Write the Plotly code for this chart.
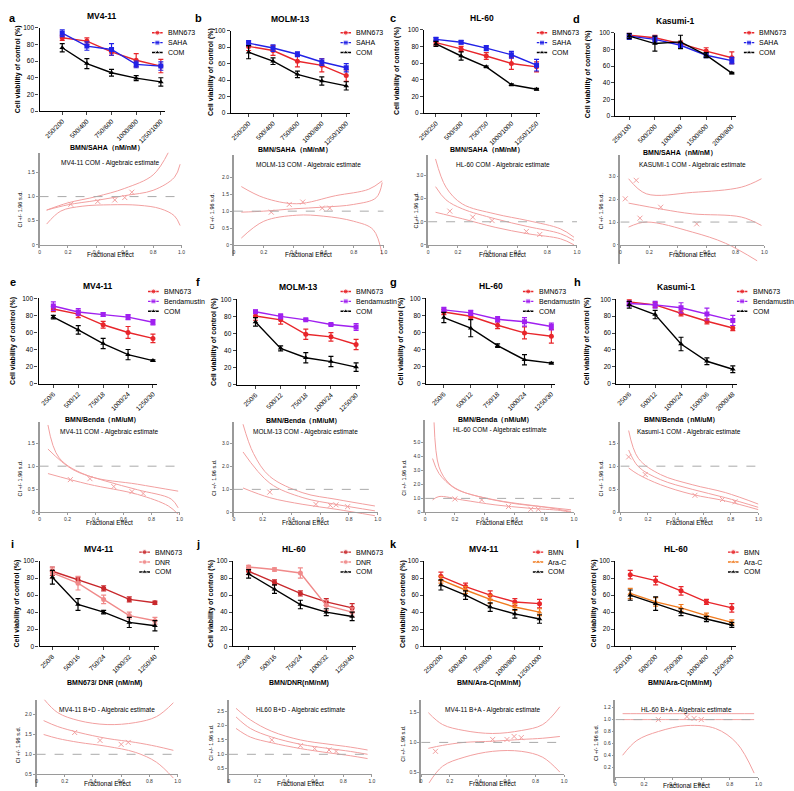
import plotly.graph_objects as go

W, H = 794, 791
FONT = "Liberation Sans, Arial, sans-serif"

# ── colours ──────────────────────────────────────────────────────────────────
C_RED = "#e8262b"
C_BLUE = "#2222e6"
C_BLACK = "#000000"
C_PURPLE = "#a020f0"
C_DKRED = "#c8282c"
C_PINK = "#f08a8a"
C_ORANGE = "#f07b1f"
C_CI = "#f2a0a0"
C_AX = "#9a9a9a"

# ── dose labels ──────────────────────────────────────────────────────────────
DOSE_A = ["250/200", "500/400", "750/600", "1000/800", "1250/1000"]
DOSE_B = ["250/200", "500/400", "750/600", "1000/800", "1250/1000"]
DOSE_C = ["250/250", "500/500", "750/750", "1000/1000", "1250/1250"]
DOSE_D = ["250/100", "500/200", "1000/400", "1500/600", "2000/800"]
DOSE_E = ["250/6", "500/12", "750/18", "1000/24", "1250/30"]
DOSE_H = ["250/6", "500/12", "1000/24", "1500/36", "2000/48"]
DOSE_I = ["250/8", "500/16", "750/24", "1000/32", "1250/40"]
DOSE_K = ["250/200", "500/400", "750/600", "1000/800", "1250/1000"]
DOSE_L = ["250/100", "500/200", "750/300", "1000/400", "1250/500"]

# ── viability (%), mean and error ────────────────────────────────────────────
A_BMN, A_BMN_E = [88, 84, 71, 61, 54], [3, 4, 4, 8, 8]
A_SAHA, A_SAHA_E = [93.5, 78, 74, 56, 54], [4, 5, 7, 4, 5]
A_COM, A_COM_E = [76, 57, 46, 39.5, 35], [5, 6, 4, 3, 5]

B_BMN, B_BMN_E = [81, 76, 63, 58, 45.5], [5, 6, 7, 8, 7]
B_SAHA, B_SAHA_E = [85, 79, 71.5, 62, 55], [3, 4, 3, 4, 5]
B_COM, B_COM_E = [74, 63, 47, 39, 33], [8, 4, 4, 5, 5]

C_BMN, C_BMN_E = [84.5, 77, 68.5, 59.5, 55.5], [3, 3, 4, 7, 6]
C_SAHA, C_SAHA_E = [88.5, 85, 78, 70, 57.5], [2, 2, 3, 4, 7]
C_COM, C_COM_E = [83, 68.5, 55.5, 34, 28.5], [3, 5, 1, 1, 1]

D_BMN, D_BMN_E = [97, 94, 87, 78, 70], [3, 3, 3, 4, 7]
D_SAHA, D_SAHA_E = [96, 92, 85, 73, 66.5], [4, 4, 3, 3, 4]
D_COM, D_COM_E = [96, 87, 89, 73, 51.5], [3, 9, 8, 3, 1]

E_BMN, E_BMN_E = [87.5, 81.5, 69, 60, 53], [3, 4, 4, 7, 5]
E_BEN, E_BEN_E = [91, 84, 81, 78, 72], [5, 4, 2, 3, 3]
E_COM, E_COM_E = [78, 63, 47, 34, 27], [2, 5, 6, 6, 1]

F_BMN, F_BMN_E = [80.5, 76, 59, 56, 47], [5, 5, 6, 5, 6]
F_BEN, F_BEN_E = [85.5, 80, 76, 70.5, 67.5], [2, 3, 1, 1, 4]
F_COM, F_COM_E = [73.5, 42.5, 31.5, 27, 20.5], [5, 3, 6, 6, 5]

G_BMN, G_BMN_E = [84, 79, 68.5, 59.5, 55.5], [3, 3, 4, 7, 8]
G_BEN, G_BEN_E = [86.5, 83, 75.5, 72.5, 67], [3, 3, 3, 5, 4]
G_COM, G_COM_E = [77.5, 65, 44.5, 28, 24], [6, 10, 2, 6, 1]

H_BMN, H_BMN_E = [97, 93.5, 83.5, 74, 66], [3, 3, 3, 3, 3]
H_BEN, H_BEN_E = [95, 93.5, 90, 82.5, 75], [3, 4, 6, 7, 6]
H_COM, H_COM_E = [93.5, 82, 47, 26.5, 17], [4, 5, 8, 4, 4]

I_BMN, I_BMN_E = [88, 78, 68, 55, 51], [5, 3, 3, 3, 2]
I_DNR, I_DNR_E = [86, 74, 55, 36, 30], [6, 8, 5, 4, 4]
I_COM, I_COM_E = [81, 49, 40, 28, 24], [8, 7, 2, 6, 6]

J_BMN, J_BMN_E = [88, 75, 62, 52, 45], [4, 3, 3, 4, 5]
J_DNR, J_DNR_E = [93, 90, 86, 48, 40], [2, 2, 6, 6, 5]
J_COM, J_COM_E = [85, 67, 49, 40, 35], [5, 5, 5, 4, 5]

K_BMN, K_BMN_E = [82, 70, 60, 52, 50], [5, 4, 5, 4, 5]
K_ARA, K_ARA_E = [78, 66, 55, 46, 40], [4, 4, 5, 4, 4]
K_COM, K_COM_E = [72, 60, 46, 38, 32], [6, 5, 5, 5, 5]

L_BMN, L_BMN_E = [84, 77, 65, 52, 45], [5, 5, 5, 3, 5]
L_ARA, L_ARA_E = [62, 52, 45, 36, 28], [6, 5, 4, 3, 3]
L_COM, L_COM_E = [60, 50, 40, 32, 25], [6, 8, 4, 3, 3]

# ── combination index curves (fa, CI) ────────────────────────────────────────
FA7 = [0.05, 0.15, 0.3, 0.5, 0.7, 0.85, 0.97]

CA_FA_UP, CA_UP = [0.05, 0.2, 0.4, 0.6, 0.8, 0.91], [0.72, 0.87, 1.0, 1.17, 1.45, 1.93]
CA_FA_MID, CA_MID = [0.05, 0.2, 0.4, 0.6, 0.8, 0.95, 0.99], [0.72, 0.83, 0.92, 1.02, 1.13, 1.4, 1.67]
CA_FA_LO, CA_LO = [0.05, 0.15, 0.3, 0.5, 0.7, 0.85, 0.95, 0.99], [0.43, 0.7, 0.8, 0.83, 0.82, 0.75, 0.6, 0.4]
CA_PT_FA, CA_PT = [0.22, 0.41, 0.53, 0.6, 0.65], [0.84, 0.9, 0.93, 0.98, 1.09]

CB_FA_UP, CB_UP = [0.05, 0.2, 0.42, 0.68, 0.9, 0.99], [1.73, 1.4, 1.22, 1.46, 1.65, 1.9]
CB_FA_MID, CB_MID = [0.05, 0.2, 0.4, 0.6, 0.8, 0.95, 0.99], [0.97, 1.0, 1.07, 1.12, 1.2, 1.4, 1.85]
CB_FA_LO, CB_LO = [0.05, 0.2, 0.42, 0.6, 0.8, 0.93, 0.99], [0.2, 0.7, 0.88, 0.85, 0.7, 0.45, -0.3]
CB_PT_FA, CB_PT = [0.25, 0.37, 0.46, 0.59, 0.64], [0.97, 1.2, 1.27, 1.09, 1.09]

CC_FA_UP, CC_UP = [0.05, 0.12, 0.23, 0.45, 0.67, 0.89, 0.98], [3.72, 2.5, 1.77, 1.34, 1.05, 0.69, 0.33]
CC_FA_MID, CC_MID = [0.05, 0.12, 0.23, 0.45, 0.67, 0.89, 0.98], [2.52, 1.95, 1.56, 1.13, 0.79, 0.48, 0.19]
CC_FA_LO, CC_LO = [0.05, 0.23, 0.45, 0.67, 0.89, 0.98], [1.41, 1.13, 0.76, 0.48, 0.26, 0.0]
CC_PT_FA, CC_PT = [0.146, 0.3, 0.43, 0.66, 0.75], [1.46, 1.2, 1.05, 0.58, 0.45]

CD_FA_UP, CD_UP = [0.057, 0.18, 0.5, 0.84, 0.98], [2.9, 2.24, 2.3, 2.53, 2.9]
CD_FA_MID, CD_MID = [0.057, 0.3, 0.5, 0.84, 0.98], [1.83, 1.55, 1.36, 1.22, 0.85]
CD_FA_LO, CD_LO = [0.057, 0.18, 0.5, 0.73, 0.95], [0.78, 1.0, 0.56, 0.07, -0.7]
CD_PT_FA, CD_PT = [0.034, 0.11, 0.136, 0.28, 0.53], [2.02, 2.83, 1.17, 1.65, 0.92]

CE_FA_UP, CE_UP = [0.06, 0.14, 0.35, 0.7, 0.99], [1.89, 1.18, 0.79, 0.61, 0.46]
CE_FA_MID, CE_MID = [0.06, 0.235, 0.47, 0.7, 0.94, 0.99], [1.37, 0.93, 0.68, 0.49, 0.29, 0.1]
CE_FA_LO, CE_LO = [0.06, 0.35, 0.7, 0.92, 0.99], [0.84, 0.61, 0.39, 0.14, -0.04]
CE_PT_FA, CE_PT = [0.22, 0.36, 0.53, 0.66, 0.74], [0.71, 0.73, 0.56, 0.45, 0.41]

CF_FA_UP, CF_UP = [0.064, 0.137, 0.25, 0.48, 0.71, 0.98], [3.82, 2.55, 1.56, 0.85, 0.57, 0.28]
CF_FA_MID, CF_MID = [0.064, 0.25, 0.48, 0.71, 0.98], [2.62, 1.27, 0.64, 0.35, 0.07]
CF_FA_LO, CF_LO = [0.064, 0.25, 0.48, 0.71, 0.98], [1.06, 0.64, 0.35, 0.14, -0.14]
CF_PT_FA, CF_PT = [0.25, 0.57, 0.67, 0.71, 0.79], [0.88, 0.35, 0.31, 0.33, 0.25]

CG_FA_UP, CG_UP = [0.06, 0.093, 0.16, 0.25, 0.47, 0.69, 0.98], [6.4, 3.24, 2.07, 1.48, 0.89, 0.54, 0.19]
CG_FA_MID, CG_MID = [0.05, 0.093, 0.2, 0.36, 0.58, 0.8, 0.98], [3.83, 2.77, 1.71, 1.13, 0.66, 0.38, 0.07]
CG_FA_LO, CG_LO = [0.05, 0.093, 0.25, 0.47, 0.69, 0.91, 0.98], [0.89, 1.13, 0.89, 0.54, 0.31, 0.14, 0.0]
CG_PT_FA, CG_PT = [0.2, 0.38, 0.56, 0.71, 0.76], [0.96, 0.89, 0.42, 0.23, 0.23]

CH_FA_UP, CH_UP = [0.06, 0.13, 0.29, 0.52, 0.76, 1.0], [1.77, 1.17, 0.82, 0.6, 0.43, 0.18]
CH_FA_MID, CH_MID = [0.06, 0.13, 0.29, 0.52, 0.76, 1.0], [1.35, 0.99, 0.71, 0.5, 0.32, 0.11]
CH_FA_LO, CH_LO = [0.06, 0.13, 0.29, 0.52, 0.76, 1.0], [0.96, 0.82, 0.6, 0.39, 0.25, 0.06]
CH_PT_FA, CH_PT = [0.06, 0.18, 0.54, 0.74, 0.83], [1.2, 0.82, 0.37, 0.28, 0.23]

CI_UP, CI_MID, CI_LO = [2.4, 2.05, 1.85, 1.75, 1.8, 1.95, 2.3], [1.85, 1.7, 1.55, 1.4, 1.3, 1.2, 1.1], [1.5, 1.4, 1.3, 1.2, 1.05, 0.8, 0.4]
CI_PT_FA, CI_PT = [0.27, 0.45, 0.6, 0.65], [1.55, 1.35, 1.25, 1.3]

CJ_UP, CJ_MID, CJ_LO = [2.6, 2.2, 1.8, 1.5, 1.35, 1.25, 1.15], [2.3, 1.9, 1.6, 1.35, 1.2, 1.1, 1.0], [1.9, 1.6, 1.4, 1.2, 1.05, 0.95, 0.85]
CJ_PT_FA, CJ_PT = [0.3, 0.5, 0.6, 0.7, 0.75], [1.5, 1.3, 1.2, 1.15, 1.1]

CK_UP, CK_MID, CK_LO = [1.5, 1.3, 1.2, 1.15, 1.2, 1.3, 1.6], [0.9, 0.95, 1.0, 1.02, 1.05, 1.07, 1.1], [0.3, 0.6, 0.75, 0.85, 0.85, 0.75, 0.5]
CK_PT_FA, CK_PT = [0.1, 0.5, 0.6, 0.65, 0.7], [0.85, 1.05, 1.05, 1.1, 1.08]

CL_UP, CL_MID, CL_LO = [1.1, 1.1, 1.1, 1.1, 1.1, 1.1, 1.1], [1.0, 1.0, 1.0, 1.0, 1.0, 1.0, 1.0], [0.4, 0.65, 0.8, 0.9, 0.85, 0.6, 0.1]
CL_PT_FA, CL_PT = [0.3, 0.5, 0.55, 0.6], [1.0, 1.05, 1.02, 1.0]


fig = go.Figure()
layout = {}
annots = []
shapes = []
_n = [0]


def new_axes():
    _n[0] += 1
    s = "" if _n[0] == 1 else str(_n[0])
    return "x" + s, "y" + s, "xaxis" + s, "yaxis" + s


def px_x(p):
    return p / W


def px_y(p):
    return 1 - p / H


def text(x, y, s, size=7, bold=False, angle=0, anchor="center", color="black"):
    if bold:
        s = "<b>" + s + "</b>"
    annots.append(dict(x=px_x(x), y=px_y(y), xref="paper", yref="paper", text=s,
                       showarrow=False, textangle=angle, xanchor=anchor, yanchor="middle",
                       font=dict(size=size, family=FONT, color=color)))


def line_panel(box, letter, title, labels, xtitle, series, legend_xy, ytitle_x):
    ax0, t0, t4, y100, y0 = box
    sp = (t4 - t0) / 4
    r0 = -(t0 - ax0) / sp
    r1 = 4.15
    x1 = ax0 + (r1 - r0) * sp
    xr, yr, xk, yk = new_axes()
    layout[xk] = dict(domain=[px_x(ax0), px_x(x1)], range=[r0, r1], anchor=yr, type="category",
                      tickangle=-45, showline=True, linecolor="black", linewidth=1.3,
                      ticks="outside", ticklen=3, tickwidth=1.2, showgrid=False, zeroline=False,
                      tickfont=dict(size=6.5, family=FONT, color="black"))
    layout[yk] = dict(domain=[px_y(y0), px_y(y100)], range=[0, 100], anchor=xr,
                      tickvals=[0, 20, 40, 60, 80, 100], showline=True, linecolor="black",
                      linewidth=1.3, ticks="outside", ticklen=3, tickwidth=1.2, showgrid=False,
                      zeroline=False, tickfont=dict(size=6.5, family=FONT, color="black"))
    for name, vals, errs, color, symbol in series:
        fig.add_trace(go.Scatter(
            x=labels, y=vals, mode="lines+markers", xaxis=xr, yaxis=yr, showlegend=False,
            line=dict(color=color, width=1.4),
            marker=dict(symbol=symbol, size=5, color=color),
            error_y=dict(type="data", array=errs, color=color, thickness=1.2, width=2.5),
        ))
    # legend keys on a hidden axis
    lx, ly = legend_xy
    xr, yr, xk, yk = new_axes()
    layout[xk] = dict(domain=[px_x(lx), px_x(lx + 11)], range=[0, 1], visible=False)
    layout[yk] = dict(domain=[px_y(ly + 25), px_y(ly - 5)], range=[2.5, -0.5], visible=False)
    for i, (name, vals, errs, color, symbol) in enumerate(series):
        fig.add_trace(go.Scatter(
            x=[0, 0.5, 1], y=[i, i, i], mode="lines+markers", xaxis=xr, yaxis=yr,
            showlegend=False, hoverinfo="skip", line=dict(color=color, width=1.4),
            marker=dict(symbol=symbol, size=[0, 5, 0], color=color)))
        text(lx + 14, ly + 10 * i, name, size=7, anchor="left")
    # texts
    mid = (ax0 + x1) / 2
    text(mid, y100 - 12, title, size=8.5, bold=True)
    text(ytitle_x, (y0 + y100) / 2, "Cell viability of control (%)", size=7, bold=True, angle=-90)
    text(mid + 5, y0 + 37, xtitle, size=7, bold=True)
    text(letter[1], letter[2], letter[0], size=11, bold=True)


def ci_panel(box, title, yticks, curves, pts, ytitle_x, xt_gap=10):
    ax0, ax1, ref_val, ref_px, ppu, axis_px, top_px, bot_px = box
    ymax = ref_val + (ref_px - top_px) / ppu
    ymin = ref_val - (bot_px - ref_px) / ppu
    xr, yr, xk, yk = new_axes()
    layout[xk] = dict(domain=[px_x(ax0), px_x(ax1)], range=[0, 1.0], anchor="free",
                      position=px_y(axis_px), tickvals=[0, 0.2, 0.4, 0.6, 0.8, 1.0],
                      ticktext=["0", "0.2", "0.4", "0.6", "0.8", "1.0"], showline=True,
                      linecolor=C_AX, linewidth=1, ticks="outside", ticklen=2, tickcolor=C_AX,
                      showgrid=False, zeroline=False, tickfont=dict(size=5, family=FONT, color="#333"))
    layout[yk] = dict(domain=[px_y(bot_px), px_y(top_px)], range=[ymin, ymax], anchor=xr,
                      tickvals=yticks, ticktext=[("%.1f" % v) if v else "0" for v in yticks],
                      showline=True, linecolor=C_AX, linewidth=1.5, ticks="outside", ticklen=2,
                      tickcolor=C_AX, showgrid=False, zeroline=False,
                      tickfont=dict(size=5, family=FONT, color="#333"))
    shapes.append(dict(type="line", xref=xr, yref=yr, x0=0, x1=1, y0=1, y1=1,
                       line=dict(color="#aaaaaa", width=1, dash="dash")))
    for fa, ci in curves:
        fig.add_trace(go.Scatter(x=fa, y=ci, mode="lines", xaxis=xr, yaxis=yr, showlegend=False,
                                 line=dict(color=C_CI, width=1, shape="spline")))
    fig.add_trace(go.Scatter(x=pts[0], y=pts[1], mode="markers", xaxis=xr, yaxis=yr,
                             showlegend=False,
                             marker=dict(symbol="x-thin-open", size=5, color=C_CI,
                                         line=dict(color=C_CI, width=1))))
    mid = (ax0 + ax1) / 2
    top_tick_px = ref_px - (max(yticks) - ref_val) * ppu
    text(mid, top_px + 10, title, size=6.5)
    text(ytitle_x, (top_tick_px + axis_px) / 2, "CI +/- 1.96 s.d.", size=5.5, angle=-90)
    text(mid, axis_px + xt_gap, "Fractional Effect", size=6.5)


def trio(a, b, c, na, nb, nc, ca, cb, cc, sa, sb, sc):
    return [(na,) + a + (ca, sa), (nb,) + b + (cb, sb), (nc,) + c + (cc, sc)]


# ── row 1: BMN673 + SAHA ─────────────────────────────────────────────────────
line_panel((33, 56, 156, 24, 108), ("a", 6, 14), "MV4-11", DOSE_A, "BMN/SAHA（nM/nM）",
           trio((A_BMN, A_BMN_E), (A_SAHA, A_SAHA_E), (A_COM, A_COM_E), "BMN673", "SAHA", "COM",
                C_RED, C_BLUE, C_BLACK, "circle", "square", "triangle-up"), (147, 29), 12)
line_panel((227, 245, 344, 27, 110), ("b", 194, 14), "MOLM-13", DOSE_B, "BMN/SAHA（nM/nM）",
           trio((B_BMN, B_BMN_E), (B_SAHA, B_SAHA_E), (B_COM, B_COM_E), "BMN673", "SAHA", "COM",
                C_RED, C_BLUE, C_BLACK, "circle", "square", "triangle-up"), (338, 29), 207)
line_panel((423, 435, 537, 26, 110), ("c", 391, 14), "HL-60", DOSE_C, "BMN/SAHA（nM/nM）",
           trio((C_BMN, C_BMN_E), (C_SAHA, C_SAHA_E), (C_COM, C_COM_E), "BMN673", "SAHA", "COM",
                C_RED, C_BLUE, C_BLACK, "circle", "square", "triangle-up"), (537, 29), 396)
line_panel((617, 631, 735, 29, 113), ("d", 578, 15), "Kasumi-1", DOSE_D, "BMN/SAHA（nM/nM）",
           trio((D_BMN, D_BMN_E), (D_SAHA, D_SAHA_E), (D_COM, D_COM_E), "BMN673", "SAHA", "COM",
                C_RED, C_BLUE, C_BLACK, "circle", "square", "triangle-up"), (747, 29), 590)

ci_panel((33, 177, 0, 243, 48.7, 243, 150, 246), "MV4-11 COM - Algebraic estimate",
         [0, 0.5, 1.0, 1.5],
         [(CA_FA_UP, CA_UP), (CA_FA_MID, CA_MID), (CA_FA_LO, CA_LO)], (CA_PT_FA, CA_PT), 13)
ci_panel((230, 382, 0, 243, 34, 243, 152, 254), "MOLM-13 COM - Algebraic estimate",
         [0, 0.5, 1.0, 1.5, 2.0],
         [(CB_FA_UP, CB_UP), (CB_FA_MID, CB_MID), (CB_FA_LO, CB_LO)], (CB_PT_FA, CB_PT), 208)
ci_panel((427, 578, 0, 243, 23.3, 243, 152, 246), "HL-60 COM - Algebraic estimate",
         [0, 1.0, 2.0, 3.0],
         [(CC_FA_UP, CC_UP), (CC_FA_MID, CC_MID), (CC_FA_LO, CC_LO)], (CC_PT_FA, CC_PT), 415)
ci_panel((622, 768, 0, 243, 23, 243, 152, 262), "KASUMI-1 COM - Algebraic estimate",
         [0, 1.0, 2.0, 3.0],
         [(CD_FA_UP, CD_UP), (CD_FA_MID, CD_MID), (CD_FA_LO, CD_LO)], (CD_PT_FA, CD_PT), 602)

# ── row 2: BMN673 + Bendamustin ──────────────────────────────────────────────
line_panel((32, 47, 148, 297, 383), ("e", 6, 280), "MV4-11", DOSE_E, "BMN/Benda（nM/uM）",
           trio((E_BMN, E_BMN_E), (E_BEN, E_BEN_E), (E_COM, E_COM_E), "BMN673", "Bendamustin", "COM",
                C_RED, C_PURPLE, C_BLACK, "circle", "square", "triangle-up"), (143, 290), 6)
line_panel((233, 252, 354, 298, 384), ("f", 194, 280), "MOLM-13", DOSE_E, "BMN/Benda（nM/uM）",
           trio((F_BMN, F_BMN_E), (F_BEN, F_BEN_E), (F_COM, F_COM_E), "BMN673", "Bendamustin", "COM",
                C_RED, C_PURPLE, C_BLACK, "circle", "square", "triangle-up"), (338, 290), 210)
line_panel((425, 443, 552, 297, 383), ("g", 392, 280), "HL-60", DOSE_E, "BMN/Benda（nM/uM）",
           trio((G_BMN, G_BMN_E), (G_BEN, G_BEN_E), (G_COM, G_COM_E), "BMN673", "Bendamustin", "COM",
                C_RED, C_PURPLE, C_BLACK, "circle", "square", "triangle-up"), (523, 290), 400)
line_panel((618, 631, 736, 298, 383), ("h", 579, 280), "Kasumi-1", DOSE_H, "BMN/Benda（nM/uM）",
           trio((H_BMN, H_BMN_E), (H_BEN, H_BEN_E), (H_COM, H_COM_E), "BMN673", "Bendamustin", "COM",
                C_RED, C_PURPLE, C_BLACK, "circle", "square", "triangle-up"), (740, 290), 589)

ci_panel((33, 175, 0, 513, 46.7, 513, 422, 516), "MV4-11 COM - Algebraic estimate",
         [0, 0.5, 1.0, 1.5],
         [(CE_FA_UP, CE_UP), (CE_FA_MID, CE_MID), (CE_FA_LO, CE_LO)], (CE_PT_FA, CE_PT), 13)
ci_panel((230, 376, 0, 513, 23.3, 513, 422, 518), "MOLM-13 COM - Algebraic estimate",
         [0, 1.0, 2.0, 3.0],
         [(CF_FA_UP, CF_UP), (CF_FA_MID, CF_MID), (CF_FA_LO, CF_LO)], (CF_PT_FA, CF_PT), 210)
ci_panel((424, 575, 0, 513, 14.2, 513, 420, 514), "HL-60 COM - Algebraic estimate",
         [0, 1.0, 2.0, 3.0, 4.0, 5.0],
         [(CG_FA_UP, CG_UP), (CG_FA_MID, CG_MID), (CG_FA_LO, CG_LO)], (CG_PT_FA, CG_PT), 403)
ci_panel((622, 762, 0, 513, 46.7, 513, 422, 514), "Kasumi-1 COM - Algebraic estimate",
         [0, 0.5, 1.0, 1.5],
         [(CH_FA_UP, CH_UP), (CH_FA_MID, CH_MID), (CH_FA_LO, CH_LO)], (CH_PT_FA, CH_PT), 602)

# ── row 3: BMN673 + DNR / Ara-C ──────────────────────────────────────────────
line_panel((33, 46, 150, 562, 648), ("i", 6, 545), "MV4-11", DOSE_I, "BMN673/ DNR (nM/nM)",
           trio((I_BMN, I_BMN_E), (I_DNR, I_DNR_E), (I_COM, I_COM_E), "BMN673", "DNR", "COM",
                C_DKRED, C_PINK, C_BLACK, "circle", "circle", "triangle-up"), (134, 553), 10)
line_panel((229, 245, 350, 562, 648), ("j", 194, 545), "HL-60", DOSE_I, "BMN/DNR(nM/nM)",
           trio((J_BMN, J_BMN_E), (J_DNR, J_DNR_E), (J_COM, J_COM_E), "BMN673", "DNR", "COM",
                C_DKRED, C_PINK, C_BLACK, "circle", "circle", "triangle-up"), (338, 553), 206)
line_panel((423, 440, 540, 562, 648), ("k", 392, 545), "MV4-11", DOSE_K, "BMN/Ara-C(nM/nM)",
           trio((K_BMN, K_BMN_E), (K_ARA, K_ARA_E), (K_COM, K_COM_E), "BMN", "Ara-C", "COM",
                C_RED, C_ORANGE, C_BLACK, "circle", "triangle-up", "triangle-up"), (533, 553), 401)
line_panel((617, 632, 735, 562, 648), ("l", 579, 545), "HL-60", DOSE_L, "BMN/Ara-C(nM/nM)",
           trio((L_BMN, L_BMN_E), (L_ARA, L_ARA_E), (L_COM, L_COM_E), "BMN", "Ara-C", "COM",
                C_RED, C_ORANGE, C_BLACK, "circle", "triangle-up", "triangle-up"), (731, 553), 595)

ci_panel((30, 173, 1.0, 757, 40, 777, 702, 790), "MV4-11 B+D - Algebraic estimate",
         [0.5, 1.0, 1.5, 2.0], [(FA7, CI_UP), (FA7, CI_MID), (FA7, CI_LO)], (CI_PT_FA, CI_PT), 12, 9)
ci_panel((225, 370, 1.0, 757, 29, 777, 702, 786), "HL60 B+D - Algebraic estimate",
         [0.5, 1.0, 1.5, 2.0, 2.5], [(FA7, CJ_UP), (FA7, CJ_MID), (FA7, CJ_LO)], (CJ_PT_FA, CJ_PT), 207, 9)
ci_panel((420, 565, 1.0, 745, 60, 777, 702, 786), "MV4-11 B+A - Algebraic estimate",
         [0.5, 1.0, 1.5], [(FA7, CK_UP), (FA7, CK_MID), (FA7, CK_LO)], (CK_PT_FA, CK_PT), 402, 9)
ci_panel((617, 762, 1.0, 722, 60, 780, 702, 786), "HL-60 B+A - Algebraic estimate",
         [0.2, 0.4, 0.6, 0.8, 1.0, 1.2], [(FA7, CL_UP), (FA7, CL_MID), (FA7, CL_LO)], (CL_PT_FA, CL_PT), 598, 8)

fig.update_layout(
    width=W, height=H, margin=dict(l=0, r=0, t=0, b=0),
    paper_bgcolor="white", plot_bgcolor="rgba(0,0,0,0)",
    font=dict(family=FONT, color="black"),
    annotations=annots, shapes=shapes, **layout,
)
# drop the default page margin so figure pixels line up with the window
fig.write_html("out.html", config={"displayModeBar": False},
               post_script="document.body.style.margin='0';")
